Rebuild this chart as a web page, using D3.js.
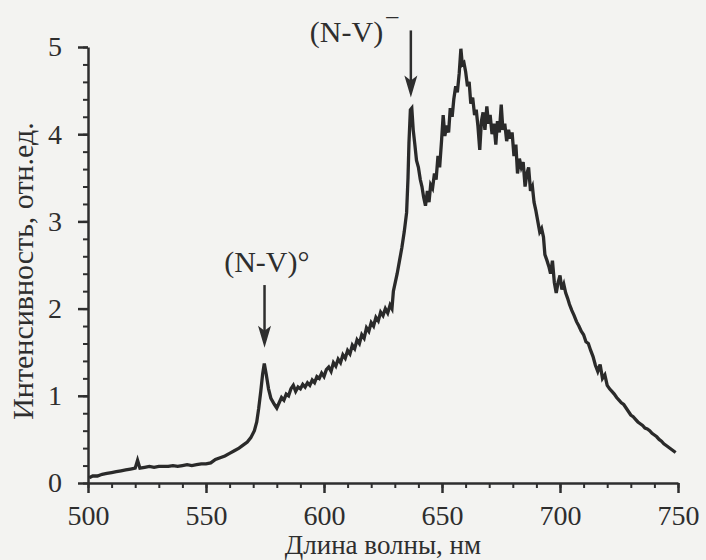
<!DOCTYPE html>
<html>
<head>
<meta charset="utf-8">
<script src="https://cdn.jsdelivr.net/npm/d3@7"></script>
<style>
  body { margin: 0; background: #f3f3f1; }
  svg { display: block; }
  text { font-family: "Liberation Serif", "Times New Roman", serif; fill: #2e2e2e; }
</style>
</head>
<body>
<div id="chart"></div>
<script>
// wavelength, nm
const wavelength = [
  500.5, 502, 504, 506, 508, 510, 512, 514, 516, 518, 520, 521, 522, 524, 526, 528, 530,
  532, 534, 536, 538, 540, 542, 544, 546, 548, 550, 552, 554, 556, 558, 560, 562, 564, 566,
  567.5, 569, 570.5, 571.5, 572.3, 573.2, 574, 574.7, 575.5, 576.5, 577.5, 579, 580, 581,
  582, 583, 584, 585, 586, 587, 588, 589, 590, 591, 592, 593, 594, 595, 596, 597, 598, 599,
  600, 601, 602, 603, 604, 605, 606, 607, 608, 609, 610, 611, 612, 613, 614, 615, 616, 617,
  618, 619, 620, 621, 622, 623, 624, 625, 626, 627, 628, 628.8, 629.4, 630.2, 631, 632, 633,
  634, 635, 635.6, 636, 636.6, 637.2, 637.8, 638.5, 639.2, 640, 640.8, 641.5, 642.2, 643,
  643.8, 644.5, 645.2, 646, 646.8, 647.5, 648.3, 649, 649.8, 650.5, 651.2, 652, 652.8, 653.5,
  654.3, 655, 655.8, 656.5, 657.3, 658, 658.6, 659.3, 660, 660.8, 661.5, 662.2, 663, 663.8,
  664.5, 665.2, 666, 666.7, 667.4, 668.2, 669, 669.7, 670.4, 671.2, 672, 672.8, 673.5, 674.3,
  675.1, 675.8, 676.6, 677.4, 678.2, 679, 679.7, 680.5, 681.3, 682, 682.8, 683.6, 684.4,
  685.2, 686, 686.7, 687.5, 688.3, 689, 689.8, 690.6, 691.4, 692.2, 693, 693.6, 694.5, 695.3,
  696, 696.8, 697.6, 698.4, 699.2, 700, 700.8, 701.6, 702.4, 703.2, 704, 705, 706, 707, 708,
  709, 710, 711, 712, 713, 714, 715, 716, 717, 718, 719, 720, 721, 722, 723, 724, 725, 726,
  727, 728, 729, 730, 731, 732, 733, 734, 735, 736, 737, 738, 739, 740, 741, 742, 743, 744,
  745, 746, 747, 748, 749
];

// intensity, arb. units
const intensity = [
  0.06, 0.08, 0.08, 0.10, 0.11, 0.12, 0.13, 0.14, 0.15, 0.16, 0.17, 0.26, 0.17, 0.18, 0.19, 0.18, 0.19,
  0.19, 0.19, 0.20, 0.19, 0.20, 0.21, 0.20, 0.21, 0.22, 0.22, 0.23, 0.27, 0.29, 0.31, 0.34, 0.37, 0.40, 0.44,
  0.47, 0.52, 0.60, 0.70, 0.85, 1.05, 1.25, 1.37, 1.25, 1.08, 0.97, 0.90, 0.86, 0.92,
  0.98, 0.95, 1.02, 1.00, 1.08, 1.12, 1.05, 1.10, 1.08, 1.13, 1.10, 1.15, 1.12, 1.18, 1.15, 1.22, 1.20, 1.26,
  1.22, 1.30, 1.33, 1.28, 1.38, 1.34, 1.42, 1.38, 1.47, 1.43, 1.52, 1.48, 1.58, 1.54, 1.64, 1.60, 1.70, 1.66,
  1.78, 1.74, 1.84, 1.80, 1.90, 1.86, 1.96, 1.92, 2.00, 1.95, 2.04, 2.00, 2.20, 2.30, 2.40, 2.55, 2.70,
  2.88, 3.10, 3.50, 3.90, 4.28, 4.30, 4.05, 3.88, 3.70, 3.62, 3.48, 3.40, 3.28, 3.18,
  3.35, 3.22, 3.42, 3.38, 3.55, 3.48, 3.75, 3.62, 3.92, 4.22, 3.98, 4.10, 4.02, 4.30,
  4.20, 4.40, 4.55, 4.48, 4.70, 4.98, 4.80, 4.82, 4.72, 4.55, 4.60, 4.35, 4.42, 4.22,
  4.28, 4.10, 3.82, 4.15, 4.25, 4.05, 4.32, 4.12, 4.22, 4.00, 4.12, 3.88, 4.15, 4.02,
  4.34, 4.05, 4.12, 3.92, 4.05, 3.95, 4.02, 3.75, 3.88, 3.55, 3.72, 3.62, 3.68,
  3.40, 3.55, 3.62, 3.35, 3.40, 3.22, 3.12, 3.00, 2.88, 2.92, 2.82, 2.62, 2.55, 2.48,
  2.40, 2.55, 2.30, 2.18, 2.30, 2.38, 2.22, 2.28, 2.18, 2.12, 2.05, 1.98, 1.92, 1.85, 1.80,
  1.74, 1.70, 1.62, 1.60, 1.52, 1.45, 1.35, 1.28, 1.36, 1.20, 1.24, 1.12, 1.08, 1.05, 1.02, 0.98, 0.95, 0.92,
  0.90, 0.86, 0.82, 0.78, 0.76, 0.73, 0.70, 0.68, 0.66, 0.63, 0.62, 0.60, 0.57, 0.55, 0.53, 0.50, 0.48, 0.45,
  0.43, 0.41, 0.39, 0.37, 0.35
];

const xTicks = [500, 550, 600, 650, 700, 750];
const yTicks = [0, 1, 2, 3, 4, 5];
const xMinorTicks = d3.range(500, 751, 10);
const yMinorTicks = d3.range(0, 26).map(i => i / 5);

// peak labels, arrow wavelength, arrow start and tip (intensity units)
const peakNames = ["(N-V)°", "(N-V)"];
const peakWave = [574.8, 636.8];
const arrowFrom = [2.27, 5.19];
const arrowTo = [1.55, 4.42];

const width = 706, height = 560;
const margin = { top: 47, right: 28, bottom: 77, left: 88 };

const x = d3.scaleLinear().domain([500, 750]).range([margin.left, width - margin.right]);
const y = d3.scaleLinear().domain([0, 5]).range([height - margin.bottom, margin.top]);

const svg = d3.select("#chart").append("svg")
  .attr("width", width)
  .attr("height", height);

const ink = "#2e2e2e";

// minor ticks
svg.append("g")
  .attr("transform", "translate(0," + y(0) + ")")
  .call(d3.axisBottom(x).tickValues(xMinorTicks).tickSize(5).tickFormat(""))
  .call(g => g.select(".domain").remove())
  .selectAll("line").attr("stroke", ink).attr("stroke-width", 2);

svg.append("g")
  .attr("transform", "translate(" + x(500) + ",0)")
  .call(d3.axisLeft(y).tickValues(yMinorTicks).tickSize(5).tickFormat(""))
  .call(g => g.select(".domain").remove())
  .selectAll("line").attr("stroke", ink).attr("stroke-width", 2);

// major axes
const xAxis = svg.append("g")
  .attr("transform", "translate(0," + y(0) + ")")
  .call(d3.axisBottom(x).tickValues(xTicks).tickFormat(d3.format("d"))
    .tickSize(10).tickSizeOuter(0).tickPadding(12));

const yAxis = svg.append("g")
  .attr("transform", "translate(" + x(500) + ",0)")
  .call(d3.axisLeft(y).tickValues(yTicks).tickFormat(d3.format("d"))
    .tickSize(10).tickSizeOuter(0).tickPadding(16));

[xAxis, yAxis].forEach(g => {
  g.attr("font-family", null);
  g.select(".domain").attr("stroke", ink).attr("stroke-width", 2.5);
  g.selectAll(".tick line").attr("stroke", ink).attr("stroke-width", 2.5);
  g.selectAll(".tick text")
    .style("font-family", '"Liberation Serif", "Times New Roman", serif')
    .style("font-size", "28px")
    .attr("fill", ink);
});

// spectrum
const points = wavelength.map((w, i) => [w, intensity[i]]);
svg.append("path")
  .datum(points)
  .attr("fill", "none")
  .attr("stroke", "#2a2a2a")
  .attr("stroke-width", 3.3)
  .attr("stroke-linejoin", "miter")
  .attr("d", d3.line().x(d => x(d[0])).y(d => y(d[1])));

// axis titles
svg.append("text")
  .attr("x", (x(500) + x(750)) / 2)
  .attr("y", 554)
  .attr("text-anchor", "middle")
  .style("font-size", "27px")
  .text("Длина волны, нм");

svg.append("text")
  .attr("transform", "translate(33,271) rotate(-90)")
  .attr("text-anchor", "middle")
  .style("font-size", "30px")
  .text("Интенсивность, отн.ед.");

// arrows
peakWave.forEach((w, i) => {
  const tip = y(arrowTo[i]);
  svg.append("line")
    .attr("x1", x(w)).attr("x2", x(w))
    .attr("y1", y(arrowFrom[i])).attr("y2", tip - 10)
    .attr("stroke", ink)
    .attr("stroke-width", 2.5);
  svg.append("path")
    .attr("d", d3.line()([[x(w) - 6.5, tip - 22], [x(w), tip - 17],
      [x(w) + 6.5, tip - 22], [x(w), tip]]))
    .attr("fill", ink);
});

// peak labels
svg.append("text")
  .attr("x", x(575.8))
  .attr("y", y(2.42))
  .attr("text-anchor", "middle")
  .style("font-size", "30px")
  .text(peakNames[0]);

const minusLabel = svg.append("text")
  .attr("x", x(594))
  .attr("y", y(5.06))
  .style("font-size", "30px");
minusLabel.append("tspan").text(peakNames[1]);
minusLabel.append("tspan")
  .attr("dx", 3)
  .attr("dy", -19)
  .style("font-size", "24px")
  .text("–");
</script>
</body>
</html>
